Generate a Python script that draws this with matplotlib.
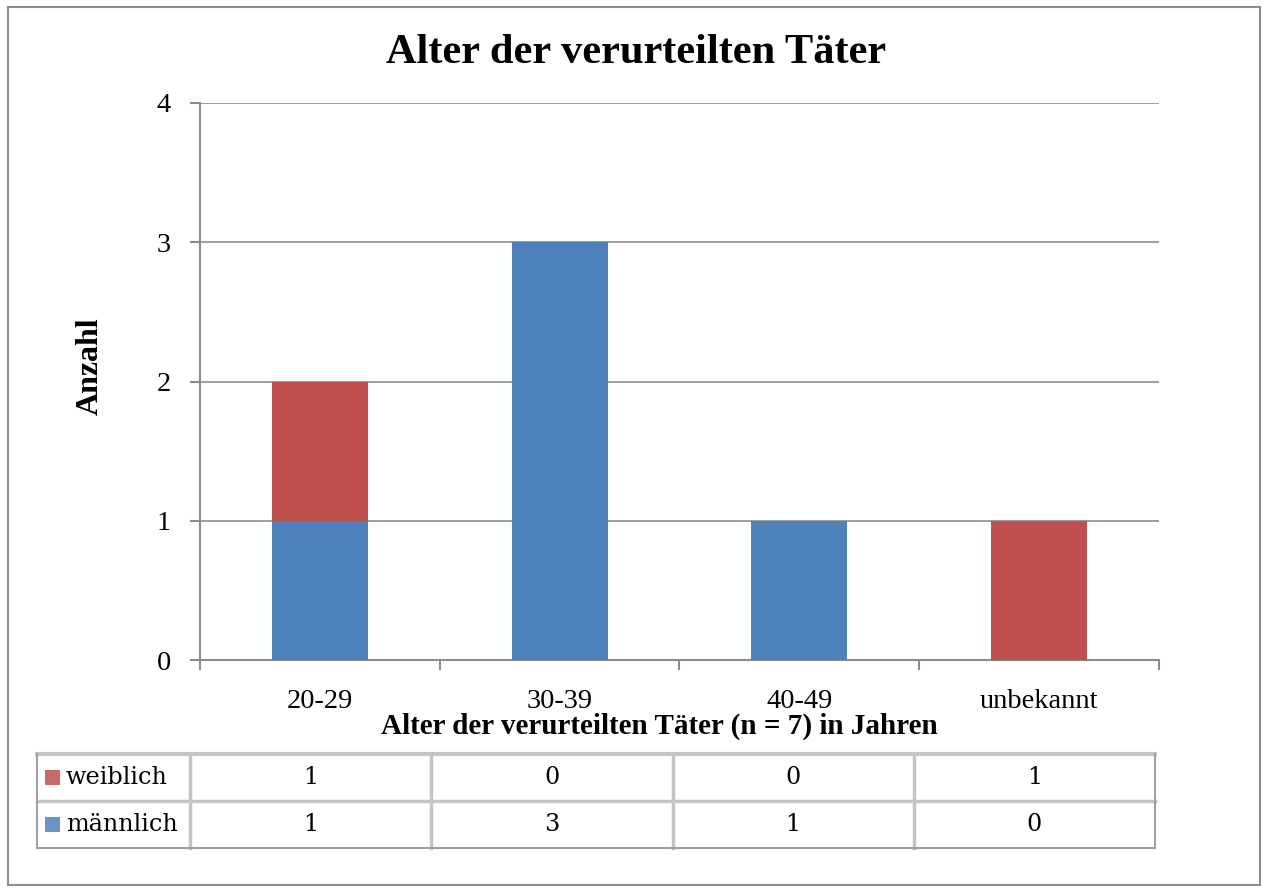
import matplotlib
matplotlib.use("Agg")
import matplotlib.pyplot as plt
from matplotlib.patches import Rectangle
import numpy as np

categories = ["20-29", "30-39", "40-49", "unbekannt"]
maennlich = [1, 3, 1, 0]
weiblich = [1, 0, 0, 1]
series_names = ["weiblich", "männlich"]
yticks = [0, 1, 2, 3, 4]

title = "Alter der verurteilten Täter"
xlabel = "Alter der verurteilten Täter (n = 7) in Jahren"
ylabel = "Anzahl"

BLUE = "#4F81BD"
RED = "#C0504D"
GRID = "#8c8c8c"
SERIF = ["Liberation Serif", "DejaVu Serif"]
TSERIF = ["DejaVu Serif"]

W, H = 1263, 890
fig = plt.figure(figsize=(W / 100, H / 100), dpi=100)
fig.patch.set_facecolor("white")

def fx(px):
    return px / W

def fy(py):
    return 1 - py / H

# outer border
fig.add_artist(Rectangle((fx(8), fy(885)), fx(1260) - fx(8), fy(7) - fy(885),
                         transform=fig.transFigure, fill=False,
                         edgecolor="#8c8c8c", linewidth=1.5))

# main axes
L, R, T, B = 200, 1159, 103, 660
ax = fig.add_axes([fx(L), fy(B), fx(R) - fx(L), fy(T) - fy(B)])
x = np.arange(len(categories))
ax.bar(x, maennlich, width=0.4, color=BLUE, zorder=3)
ax.bar(x, weiblich, width=0.4, bottom=maennlich, color=RED, zorder=3)
ax.set_xlim(-0.5, len(categories) - 0.5)
ax.set_ylim(0, 4)
ax.set_yticks(yticks)
ax.set_yticklabels([str(v) for v in yticks], fontfamily=SERIF, fontsize=20.5)
ax.set_xticks(x)
ax.set_xticklabels(categories, fontfamily=SERIF, fontsize=20.5)
ax.set_xticks(np.arange(-0.5, len(categories)), minor=True)
ax.tick_params(axis="x", which="major", length=0, pad=21)
ax.tick_params(axis="x", which="minor", length=7, color=GRID, width=1.5)
ax.tick_params(axis="y", length=7, color=GRID, width=1.5, pad=14)
for yv in yticks[1:]:
    ax.axhline(yv, color=GRID, linewidth=1.2, zorder=1)
for s in ["top", "right"]:
    ax.spines[s].set_visible(False)
for s in ["left", "bottom"]:
    ax.spines[s].set_color(GRID)
    ax.spines[s].set_linewidth(1.5)
ax.set_xlabel(xlabel, fontfamily=SERIF, fontsize=21, fontweight="bold")
ax.xaxis.set_label_coords((659 - L) / (R - L), (B - 726) / (B - T))
ax.set_ylabel(ylabel, fontfamily=SERIF, fontsize=23, fontweight="bold")
ax.yaxis.set_label_coords((90 - L) / (R - L), (B - 366) / (B - T))
ax.xaxis.label.set_va("center")
ax.yaxis.label.set_va("center")

fig.text(fx(636), fy(53), title, fontfamily=SERIF, fontsize=30.5,
         fontweight="bold", ha="center", va="center")

# data table
TL, TR, TT, TB = 37, 1155, 754, 848
tax = fig.add_axes([fx(TL), fy(TB), fx(TR) - fx(TL), fy(TT) - fy(TB)])
label_w = (190 - 37) / ((1155 - 190) / len(categories))
x0 = -0.5 - label_w
tax.set_xlim(x0, len(categories) - 0.5)
tax.set_ylim(0, 2)
tax.axis("off")
rows = [(weiblich, RED, series_names[0]), (maennlich, BLUE, series_names[1])]
for r, (vals, col, name) in enumerate(rows):
    yc = 1.5 - r
    tax.add_patch(Rectangle((x0 + 0.033, yc - 0.16), 0.062, 0.32, color=col,
                            alpha=0.85, clip_on=False, linewidth=0))
    tax.text(x0 + 0.12, yc, name, fontfamily=TSERIF, fontsize=17.2,
             ha="left", va="center")
    for i, v in enumerate(vals):
        tax.text(i, yc, str(v), fontfamily=TSERIF, fontsize=17.2,
                 ha="center", va="center")
inner = "#c4c4c4"
outer = "#a0a0a0"
tax.plot([x0, len(categories) - 0.5], [1, 1], color=inner, lw=2.5, clip_on=False)
tax.plot([x0, len(categories) - 0.5], [2, 2], color=inner, lw=3, clip_on=False)
for xb in np.arange(-0.5, len(categories) - 0.5):
    tax.plot([xb, xb], [0, 2], color=inner, lw=2.5, clip_on=False)
tax.plot([x0, x0], [0, 2], color=outer, lw=1.5, clip_on=False)
tax.plot([len(categories) - 0.5] * 2, [0, 2], color=outer, lw=1.5, clip_on=False)
tax.plot([x0, len(categories) - 0.5], [0, 0], color=outer, lw=1.5, clip_on=False)

fig.savefig("out.png", dpi=100)
